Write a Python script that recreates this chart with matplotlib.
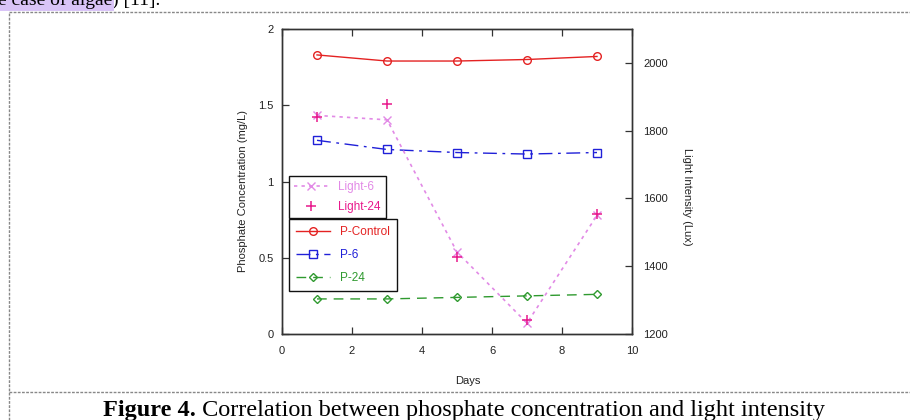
import matplotlib
matplotlib.use("Agg")
import matplotlib.pyplot as plt
from matplotlib.lines import Line2D

days = [1, 3, 5, 7, 9]
p_control = [1.83, 1.79, 1.79, 1.80, 1.82]
p_6 = [1.27, 1.21, 1.19, 1.18, 1.19]
p_24 = [0.23, 0.23, 0.24, 0.25, 0.26]
light_6 = [1845, 1832, 1442, 1232, 1550]
light_24 = [1840, 1878, 1428, 1240, 1553]

x_ticks = [0, 2, 4, 6, 8, 10]
left_ticks = [0, 0.5, 1, 1.5, 2]
left_ticklabels = ["0", "0.5", "1", "1.5", "2"]
right_ticks = [1200, 1400, 1600, 1800, 2000]

SANS = ["Liberation Sans", "DejaVu Sans"]
SERIF = ["Liberation Serif", "DejaVu Serif"]
plt.rcParams["font.family"] = SANS

c_red = "#e42222"
c_blue = "#2020d8"
c_green = "#2f9a2f"
c_violet = "#e28ae6"
c_pink = "#e8198c"
c_axis = "#333333"

fig = plt.figure(figsize=(9.1, 4.2), dpi=100)
W, H = 910, 420
ax = fig.add_axes([282 / W, 1 - 334 / H, 350 / W, 305 / H])
ax2 = ax.twinx()

l_ctrl, = ax.plot(days, p_control, color=c_red, lw=1.0, marker="o", ms=5.5,
                  mfc="none", mew=1.0, label="P-Control")
l_p6, = ax.plot(days, p_6, color=c_blue, lw=1.0, ls=(0, (10, 4, 2, 4)), marker="s",
                ms=6, mfc="none", mew=1.0, label="P-6")
l_p24, = ax.plot(days, p_24, color=c_green, lw=1.0, ls=(0, (7, 5)), marker="D",
                 ms=3.8, mfc="none", mew=1.0, label="P-24")
l_l6, = ax2.plot(days, light_6, color=c_violet, lw=1.2, ls=(0, (2, 2.5)), marker="x",
                 ms=6, mew=1.0, label="Light-6")
l_l24, = ax2.plot(days, light_24, color=c_pink, lw=0, ls="none", marker="+",
                  ms=7, mew=1.1, label="Light-24")

ax.set_xlim(0, 10)
ax.set_ylim(0, 2)
ax2.set_ylim(1200, 2100)
ax.set_xticks(x_ticks)
ax.set_xticklabels([str(t) for t in x_ticks])
ax.set_yticks(left_ticks)
ax.set_yticklabels(left_ticklabels)
ax2.set_yticks(right_ticks)
ax2.set_yticklabels([str(t) for t in right_ticks])

ax.tick_params(axis="x", direction="in", length=5, width=0.9, color=c_axis,
               labelsize=8, pad=9, top=True, labelcolor="#222222")
ax.tick_params(axis="y", direction="in", length=5, width=0.9, color=c_axis,
               labelsize=8, pad=6, right=False, labelcolor="#222222")
ax2.tick_params(axis="y", direction="in", length=5, width=0.9, color=c_axis,
                labelsize=8, pad=8, labelcolor="#222222")
for a in (ax, ax2):
    for s in a.spines.values():
        s.set_color(c_axis)
        s.set_linewidth(1.0)

ax.set_xlabel("Days", fontsize=8, color="#222222")
ax.xaxis.set_label_coords(0.53, -0.138)
ax.set_ylabel("Phosphate Concentration (mg/L)", fontsize=8, color="#222222")
ax.yaxis.set_label_coords(-0.097, 0.47)
ax2.set_ylabel("Light Intensity (Lux)", fontsize=8, rotation=-90, color="#222222")
ax2.yaxis.set_label_coords(1.17, 0.45)

leg1 = ax2.legend(handles=[l_l6, l_l24], loc="upper left",
                  bbox_to_anchor=(0.02, 0.518), borderaxespad=0, fontsize=8.5,
                  frameon=True, fancybox=False, edgecolor="#111111",
                  framealpha=1, handlelength=2.9, handletextpad=0.8,
                  labelspacing=0.62, borderpad=0.45, numpoints=1)
leg1.get_frame().set_linewidth(1.0)
for t, c in zip(leg1.get_texts(), [c_violet, c_pink]):
    t.set_color(c)
ax2.add_artist(leg1)
leg2 = ax2.legend(handles=[l_ctrl, l_p6, l_p24], loc="upper left",
                  bbox_to_anchor=(0.02, 0.376), borderaxespad=0, fontsize=8.5,
                  frameon=True, fancybox=False, edgecolor="#111111",
                  framealpha=1, handlelength=2.9, handletextpad=0.8,
                  labelspacing=0.9, borderpad=0.6, numpoints=1)
leg2.get_frame().set_linewidth(1.0)
for t, c in zip(leg2.get_texts(), [c_red, c_blue, c_green]):
    t.set_color(c)

# page decorations: dashed frame
dash_kw = dict(color="#888888", lw=1.0, ls=(0, (2, 1)), transform=fig.transFigure)
fig.add_artist(Line2D([9 / W, 1], [1 - 12 / H, 1 - 12 / H], **dash_kw))
fig.add_artist(Line2D([9 / W, 1], [1 - 392 / H, 1 - 392 / H], **dash_kw))
fig.add_artist(Line2D([9 / W, 9 / W], [0, 1 - 12 / H], **dash_kw))

# top running text (cut off at the page edge, as in the source)
t1 = fig.text(-2 / W, 1 - 5 / H, "e case of algae", fontsize=14, family=SERIF,
              va="baseline", ha="left",
              bbox=dict(facecolor="#d9c4f7", edgecolor="none", pad=1.5))
fig.add_artist(plt.Annotation(") [11].", xy=(1, 0), xycoords=t1, fontsize=14,
                              family=SERIF, va="bottom", ha="left",
                              annotation_clip=False))

# caption
cap1 = fig.text(103 / W, 1 - 416 / H, "Figure 4.", fontsize=17.5, family=SERIF,
                weight="bold", va="baseline", ha="left")
fig.add_artist(plt.Annotation(" Correlation between phosphate concentration and light intensity",
                              xy=(1, 0), xycoords=cap1, fontsize=17.5,
                              family=SERIF, va="bottom", ha="left"))

fig.savefig("out.png", dpi=100)
